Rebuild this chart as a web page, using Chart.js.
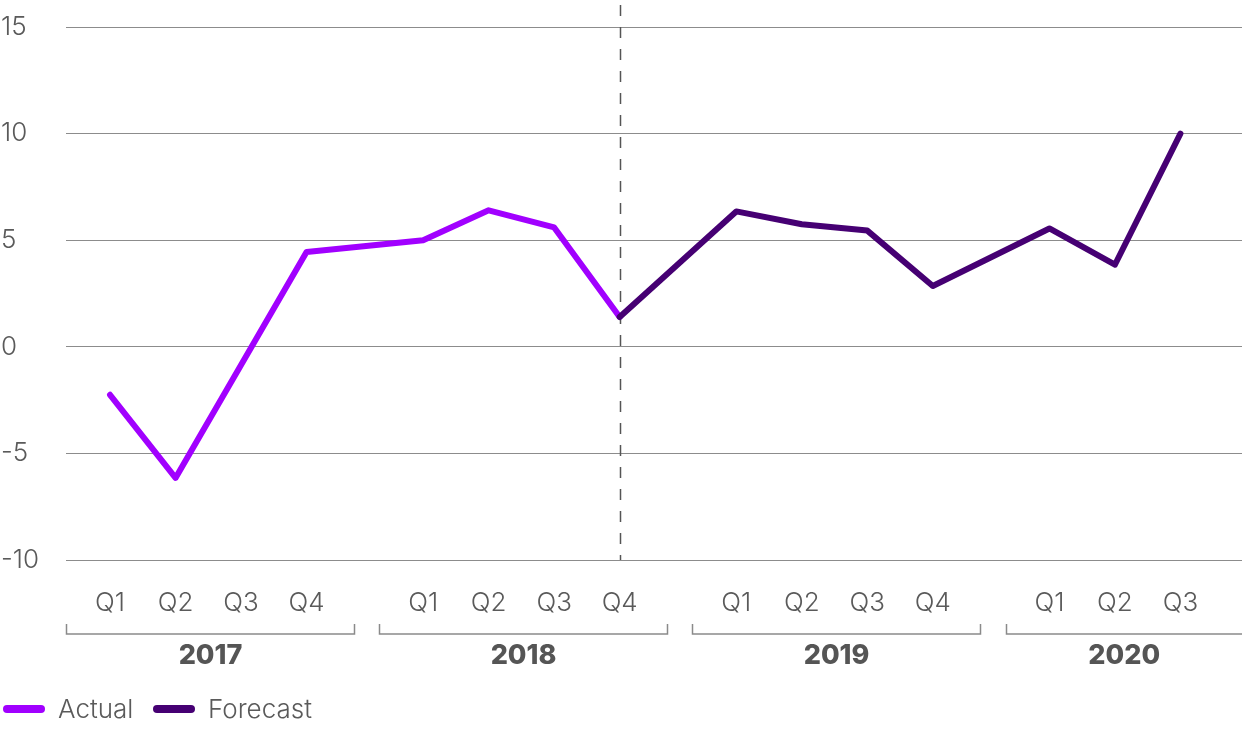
<!DOCTYPE html>
<html>
<head>
<meta charset="utf-8">
<script src="https://cdn.jsdelivr.net/npm/chart.js@4"></script>
<style>
  html, body { margin: 0; padding: 0; background: #fff; }
  #wrap { width: 1242px; height: 731px; position: relative; }
</style>
</head>
<body>
<div id="wrap"><canvas id="growthChart" width="1242" height="731"></canvas></div>
<script>
// chart data
const years = ['2017', '2018', '2019', '2020'];
const quarterLabels = ['Q1', 'Q2', 'Q3', 'Q4', 'Q1', 'Q2', 'Q3', 'Q4', 'Q1', 'Q2', 'Q3', 'Q4', 'Q1', 'Q2', 'Q3'];
const actual = [-2.25, -6.15, -0.85, 4.45, 5.0, 6.4, 5.6, 1.4, null, null, null, null, null, null, null];
const forecast = [null, null, null, null, null, null, null, 1.4, 6.35, 5.75, 5.45, 2.85, 5.55, 3.85, 10.0];
const yTicks = [-10, -5, 0, 5, 10, 15];

const YEAR_STEP = 4.78; // each year block, including the gap between blocks
const xPos = quarterLabels.map((q, i) => Math.floor(i / 4) * YEAR_STEP + (i % 4));

const toPoints = vals => vals.map((v, i) => ({ x: xPos[i], y: v }));

const FONT = 'Inter, "Noto Sans", sans-serif';
const TEXT_COLOR = '#5a5a5a';
const ACTUAL_COLOR = '#a100ff';
const FORECAST_COLOR = '#460073';

// brackets, year labels, dashed divider, legend
const decorations = {
  id: 'decorations',
  beforeDatasetsDraw(chart) {
    const { ctx, scales: { x }, chartArea } = chart;
    const px = Math.round(x.getPixelForValue(xPos[7])) + 0.5;
    ctx.save();
    ctx.strokeStyle = '#555';
    ctx.lineWidth = 1.5;
    ctx.setLineDash([11, 11]);
    ctx.beginPath();
    ctx.moveTo(px, 5);
    ctx.lineTo(px, chartArea.bottom);
    ctx.stroke();
    ctx.restore();
  },
  afterDraw(chart) {
    const { ctx, scales: { x } } = chart;
    ctx.save();
    ctx.strokeStyle = '#8a8a8a';
    ctx.lineWidth = 1.5;
    years.forEach((yr, k) => {
      const start = k * YEAR_STEP;
      const l = Math.round(x.getPixelForValue(start - 0.67)) + 0.5;
      const r = Math.round(x.getPixelForValue(start + 3.74)) - 0.5;
      ctx.beginPath();
      ctx.moveTo(l, 624);
      ctx.lineTo(l, 634);
      ctx.lineTo(r, 634);
      ctx.lineTo(r, 624);
      ctx.stroke();
      ctx.fillStyle = '#555';
      ctx.font = '800 27px ' + FONT;
      ctx.textAlign = 'center';
      ctx.textBaseline = 'middle';
      ctx.fillText(yr, (l + Math.min(r, 1242)) / 2, 656);
    });

    // legend
    const items = [['Actual', ACTUAL_COLOR, 3], ['Forecast', FORECAST_COLOR, 153]];
    ctx.lineCap = 'round';
    ctx.lineWidth = 8;
    ctx.font = '300 26px ' + FONT;
    ctx.textAlign = 'left';
    items.forEach(([label, color, lx]) => {
      ctx.strokeStyle = color;
      ctx.beginPath();
      ctx.moveTo(lx + 4, 709);
      ctx.lineTo(lx + 38, 709);
      ctx.stroke();
      ctx.fillStyle = TEXT_COLOR;
      ctx.fillText(label, lx + 55, 710);
    });
    ctx.restore();
  }
};

new Chart(document.getElementById('growthChart').getContext('2d'), {
  type: 'line',
  data: {
    datasets: [{
      label: 'Actual',
      data: toPoints(actual),
      borderColor: ACTUAL_COLOR,
      borderWidth: 6,
      borderCapStyle: 'round',
      borderJoinStyle: 'round',
      pointRadius: 0,
      spanGaps: false,
      order: 1
    }, {
      label: 'Forecast',
      data: toPoints(forecast),
      borderColor: FORECAST_COLOR,
      borderWidth: 6,
      borderCapStyle: 'round',
      borderJoinStyle: 'round',
      pointRadius: 0,
      spanGaps: false,
      order: 0
    }]
  },
  options: {
    responsive: false,
    animation: false,
    layout: { padding: { top: 27, left: 1, right: 0, bottom: 0 } },
    plugins: {
      legend: { display: false },
      tooltip: { enabled: false }
    },
    scales: {
      x: {
        type: 'linear',
        min: -0.672,
        max: 17.28,
        afterBuildTicks: scale => { scale.ticks = xPos.map(v => ({ value: v })); },
        afterFit: scale => { scale.height = 171; },
        ticks: {
          autoSkip: false,
          maxRotation: 0,
          padding: 20,
          color: TEXT_COLOR,
          font: { family: FONT, size: 26, weight: 300 },
          callback: (v, i) => quarterLabels[i]
        },
        grid: { display: false },
        border: { display: false }
      },
      y: {
        min: -10,
        max: 15,
        afterBuildTicks: scale => { scale.ticks = yTicks.map(v => ({ value: v })); },
        afterFit: scale => { scale.width = 65; },
        ticks: {
          crossAlign: 'far',
          padding: 0,
          color: TEXT_COLOR,
          font: { family: FONT, size: 26, weight: 300 }
        },
        grid: { color: '#8c8c8c', lineWidth: 1, drawTicks: false },
        border: { display: false }
      }
    }
  },
  plugins: [decorations]
});
</script>
</body>
</html>
